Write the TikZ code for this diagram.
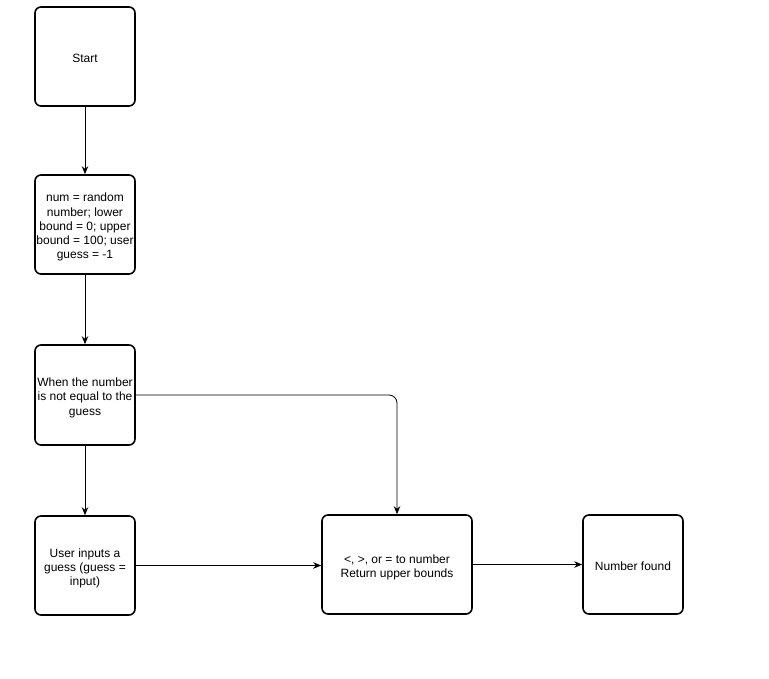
\documentclass[tikz,border=0pt]{standalone}
\usepackage{fontspec}
\setmainfont{Liberation Sans}
\usetikzlibrary{arrows.meta}
\newcommand{\boxtxt}[1]{\raisebox{-3pt}[\height][\depth]{\begin{tabular}{@{}c@{}}#1\end{tabular}}}
\begin{document}
\begin{tikzpicture}[x=1pt,y=-1pt,
  box/.style={draw,line width=1.6pt,rounded corners=6pt,inner sep=0pt,font=\fontsize{12}{14.3}\selectfont},
  conn/.style={line width=0.8pt,-{Stealth[length=8pt,width=6.5pt]}}]
\useasboundingbox (0,0) rectangle (769,678);
\fill[white] (0,0) rectangle (769,678);
\node[box,minimum width=100pt,minimum height=99pt] (start) at (85,56.5) {\boxtxt{Start}};
\node[box,minimum width=100pt,minimum height=99pt] (init) at (85,224.5) {\boxtxt{num = random\\number; lower\\bound = 0; upper\\bound = 100; user\\guess = -1}};
\node[box,minimum width=100pt,minimum height=100pt] (loop) at (85,395) {\boxtxt{When the number\\is not equal to the\\guess}};
\node[box,minimum width=100pt,minimum height=99pt] (input) at (85,565.5) {\boxtxt{User inputs a\\guess (guess =\\input)}};
\node[box,minimum width=150pt,minimum height=99pt] (cmp) at (397,564.5) {\boxtxt{<, >, or = to number\\Return upper bounds}};
\node[box,minimum width=100pt,minimum height=99pt] (found) at (633,564.5) {\boxtxt{Number found}};
\draw[conn] (start) -- (init);
\draw[conn] (init) -- (loop);
\draw[conn] (loop) -- (input);
\draw[conn,rounded corners=8pt] (loop.east) -- (cmp.north |- loop.east) -- (cmp.north);
\draw[conn] (input.east) -- (cmp.west |- input.east);
\draw[conn] (cmp) -- (found);
\end{tikzpicture}
\end{document}
